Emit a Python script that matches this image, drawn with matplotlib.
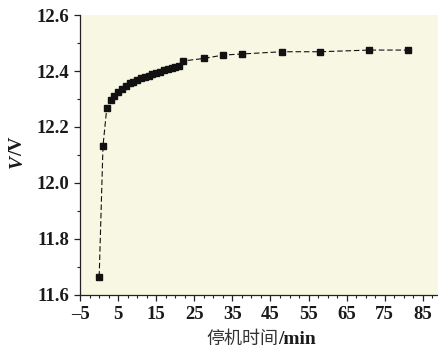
import matplotlib
matplotlib.use('Agg')
import matplotlib.pyplot as plt
from matplotlib.ticker import MultipleLocator

# stop time (min) and battery voltage (V)
stop_time = [0, 1, 2, 3, 4, 5, 6, 7, 8, 9, 10, 11, 12, 13, 14, 15, 16, 17, 18,
             19, 20, 21, 22, 27.5, 32.5, 37.5, 48, 58, 71, 81]
voltage = [11.665, 12.132, 12.269, 12.296, 12.312, 12.325, 12.335, 12.347,
           12.356, 12.362, 12.368, 12.374, 12.379, 12.384, 12.389, 12.394,
           12.398, 12.402, 12.406, 12.41, 12.414, 12.419, 12.436, 12.445,
           12.457, 12.461, 12.469, 12.469, 12.475, 12.475]

x_ticks = [-5, 5, 15, 25, 35, 45, 55, 65, 75, 85]
y_ticks = [11.6, 11.8, 12.0, 12.2, 12.4, 12.6]

serif = 'Liberation Serif'
ink = '#1a1a1a'

fig = plt.figure(figsize=(4.38, 3.51), dpi=100)
ax = fig.add_axes([0.183, 0.160, 0.817, 0.797])
ax.set_facecolor('#f8f7e4')

ax.plot(stop_time, voltage, color='#111111', lw=0.8, dashes=(5, 2.5),
        marker='s', markersize=5, markerfacecolor='#111111',
        markeredgecolor='#111111')

ax.set_xlim(-5, 89)
ax.set_ylim(11.6, 12.6)
ax.set_xticks(x_ticks)
ax.set_yticks(y_ticks)
ax.set_xticklabels(['\u20135'] + [str(v) for v in x_ticks[1:]])
ax.set_yticklabels([f'{v:.1f}' for v in y_ticks])
ax.xaxis.set_minor_locator(MultipleLocator(2.5))
ax.yaxis.set_minor_locator(MultipleLocator(0.1))

ax.tick_params(which='major', direction='out', length=4, width=0.9, pad=4,
               color='#222222')
ax.tick_params(which='minor', direction='out', length=2.5, width=0.8,
               color='#222222')
for lab in ax.get_xticklabels() + ax.get_yticklabels():
    lab.set_fontfamily(serif)
    lab.set_fontweight('bold')
    lab.set_fontsize(13.5)
    lab.set_color(ink)

for side in ['top', 'right']:
    ax.spines[side].set_visible(False)
for side in ['left', 'bottom']:
    ax.spines[side].set_linewidth(0.9)
    ax.spines[side].set_color('#222222')

# y label: italic V, then /V (reads bottom to top)
fig.text(0.040, 0.540, 'V', rotation=90, fontfamily=serif, fontweight='bold',
         fontstyle='italic', fontsize=14, ha='center', va='center', color=ink)
fig.text(0.040, 0.584, '/V', rotation=90, fontfamily=serif, fontweight='bold',
         fontsize=14, ha='center', va='center', color=ink)

# x label: Chinese + /min
fig.text(0.636, 0.034, '停机时间', fontfamily='Noto Sans CJK SC',
         fontsize=13, ha='right', va='center', color='#333333')
fig.text(0.636, 0.034, '/min', fontfamily=serif, fontweight='bold',
         fontsize=14, ha='left', va='center', color=ink)

fig.savefig('out.png', dpi=100, facecolor='white')
